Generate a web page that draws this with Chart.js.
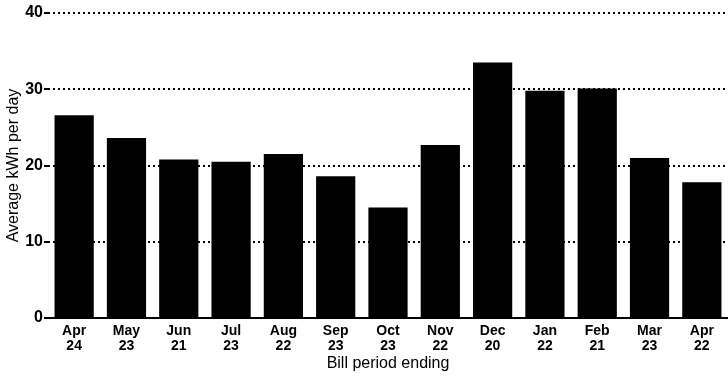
<!DOCTYPE html>
<html>
<head>
<meta charset="utf-8">
<script src="https://cdn.jsdelivr.net/npm/chart.js@4/dist/chart.umd.min.js"></script>
<style>
  html, body { margin: 0; padding: 0; background: #fff; }
  #wrap { width: 728px; height: 377px; }
</style>
</head>
<body>
<div id="wrap"><canvas id="usageChart"></canvas></div>
<script>
"use strict";

const months = ["Apr", "May", "Jun", "Jul", "Aug", "Sep", "Oct", "Nov", "Dec", "Jan", "Feb", "Mar", "Apr"];
const days = ["24", "23", "21", "23", "22", "23", "23", "22", "20", "22", "21", "23", "22"];
const kwhPerDay = [26.6, 23.6, 20.8, 20.5, 21.5, 18.6, 14.5, 22.7, 33.5, 29.8, 30.1, 21.0, 17.8];
const yTicks = [0, 10, 20, 30, 40];

const labels = [];
for (let i = 0; i < months.length; i++) {
  labels.push([months[i], days[i]]);
}

const fontFamily = "'Liberation Sans', Arial, sans-serif";

const usageConfig = {
  type: "bar",
  data: {
    labels: labels,
    datasets: [
      {
        data: kwhPerDay,
        backgroundColor: "#000",
        barPercentage: 0.75,
        categoryPercentage: 1,
      },
    ],
  },
  options: {
    responsive: true,
    maintainAspectRatio: false,
    animation: false,
    layout: { padding: { top: 13, right: 0, left: 4, bottom: 0 } },
    plugins: {
      legend: { display: false },
      tooltip: { enabled: false },
    },
    scales: {
      x: {
        grid: { display: false },
        border: { display: true, color: "#000", width: 2 },
        ticks: {
          color: "#000",
          font: { family: fontFamily, size: 14, weight: "bold", lineHeight: 1.1 },
          padding: -3,
          maxRotation: 0,
          autoSkip: false,
        },
        title: {
          display: true,
          text: "Bill period ending",
          color: "#000",
          font: { family: fontFamily, size: 16 },
          padding: { top: 0, bottom: 4 },
        },
        afterFit: function (scale) {
          scale.height = 59;
        },
      },
      y: {
        min: 0,
        max: 40,
        afterBuildTicks: function (scale) {
          scale.ticks = yTicks.map(function (v) {
            return { value: v };
          });
        },
        grid: {
          color: "#000",
          lineWidth: 2,
          tickLength: 4,
          drawOnChartArea: true,
        },
        border: { display: false, dash: [2, 3] },
        ticks: {
          color: "#000",
          font: { family: fontFamily, size: 16, weight: "bold" },
          padding: 1,
        },
        title: {
          display: true,
          text: "Average kWh per day",
          color: "#000",
          font: { family: fontFamily, size: 16 },
          padding: { top: 0, bottom: 0 },
        },
        afterFit: function (scale) {
          scale.width = 44;
        },
      },
    },
  },
};

const usageChart = new Chart(document.getElementById("usageChart"), usageConfig);
</script>
</body>
</html>
